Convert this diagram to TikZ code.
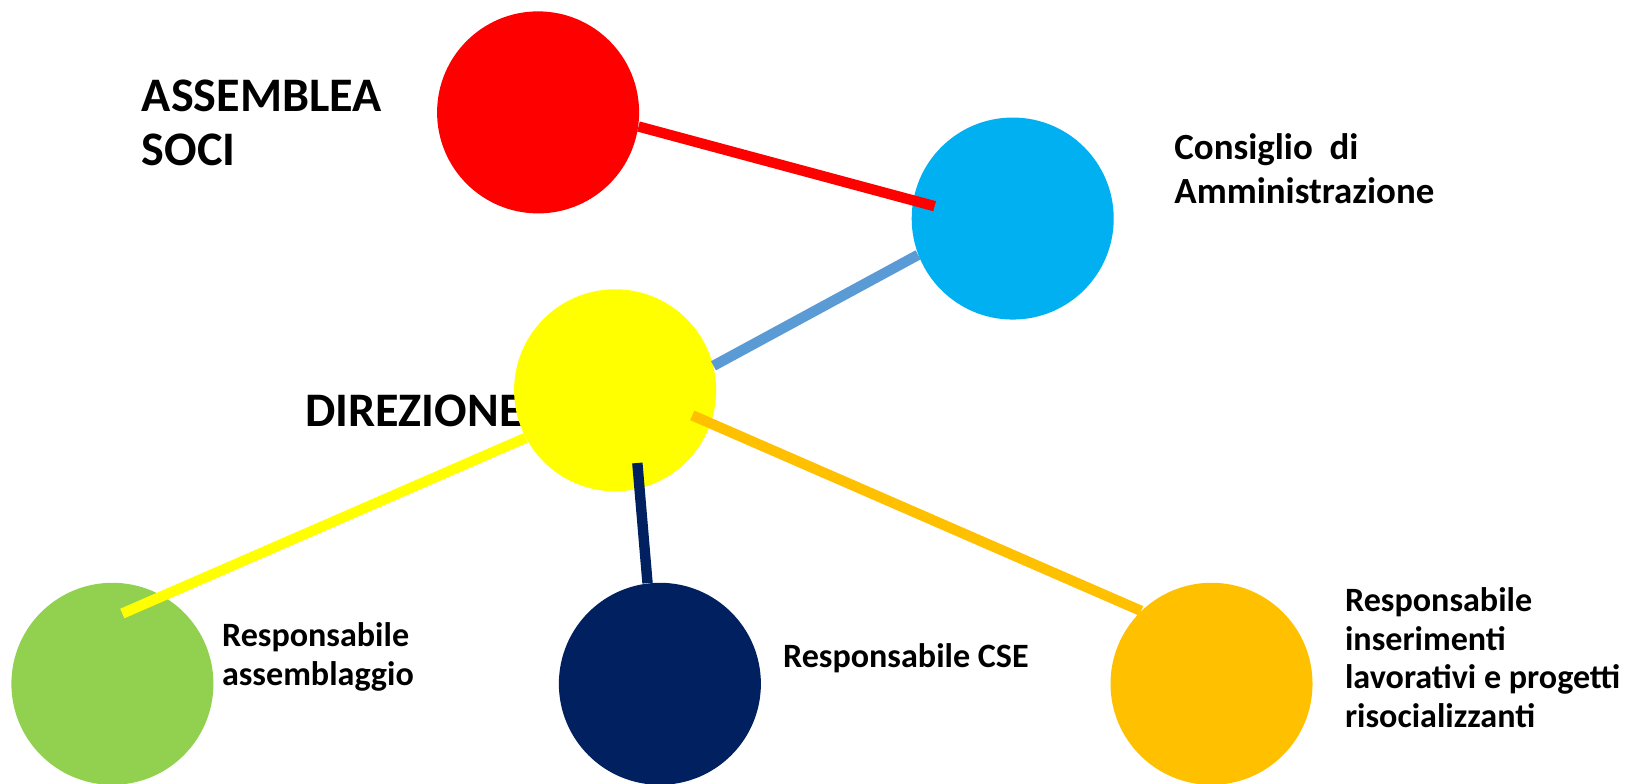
\documentclass[tikz,border=0pt]{standalone}
\usepackage{fontspec}
\setmainfont{Carlito}
\usetikzlibrary{calc}

\definecolor{cdared}{HTML}{FF0000}
\definecolor{cdacyan}{HTML}{00B0F0}
\definecolor{cdalink}{HTML}{5B9BD5}
\definecolor{cdayellow}{HTML}{FFFF00}
\definecolor{cdagreen}{HTML}{92D050}
\definecolor{cdanavy}{HTML}{002060}
\definecolor{cdaorange}{HTML}{FFC000}

\begin{document}
\begin{tikzpicture}[x=0.020816cm, y=0.020816cm,
    role/.style={circle, minimum size=4.04cm, inner sep=0pt},
    biglabel/.style={anchor=west, align=left, inner sep=0pt, font=\bfseries\fontsize{27.4}{30.5}\selectfont},
    midlabel/.style={anchor=west, align=left, inner sep=0pt, font=\bfseries\fontsize{21}{24.9}\selectfont},
    smalllabel/.style={anchor=west, align=left, inner sep=0pt, font=\bfseries\fontsize{19.4}{22}\selectfont},
    link/.style={line width=0.208cm}]
\useasboundingbox (0,0) rectangle (1568,753);

% Labels
\node[biglabel] (lassemblea) at (136,635) {ASSEMBLEA\\SOCI};
\node[midlabel] (lconsiglio) at (1128,591) {Consiglio\ \ di\\Amministrazione};
\node[biglabel] (ldirezione) at (293,358) {DIREZIONE};
\node[smalllabel] (lassembl) at (213,122) {Responsabile\\assemblaggio};
\node[smalllabel] (lcse) at (752,121) {Responsabile CSE};
\node[smalllabel] (linser) at (1292,121) {Responsabile\\inserimenti\\lavorativi e progetti\\risocializzanti};

% Circles
\node[role, fill=cdared] (assemblea) at (517,645) {};
\node[role, fill=cdacyan] (consiglio) at (973,543) {};
\node[role, fill=cdayellow] (direzione) at (591,378) {};
\node[role, fill=cdagreen] (assembl) at (108,96) {};
\node[role, fill=cdanavy] (cse) at (634,96) {};
\node[role, fill=cdaorange] (inser) at (1164,96) {};

% Connections
\draw[link, cdared] (assemblea.-8) -- ($(consiglio.center)!0.78!(consiglio.171)$);
\draw[link, cdalink] (consiglio.201) -- (direzione.14);
\draw[link, cdayellow] (direzione.208) -- ($(assembl.center)!0.70!(assembl.82)$);
\draw[link, cdanavy] ($(direzione.center)!0.75!(direzione.-73)$) -- (cse.97);
\draw[link, cdaorange] ($(direzione.center)!0.80!(direzione.-18)$) -- (inser.134);

\end{tikzpicture}
\end{document}
